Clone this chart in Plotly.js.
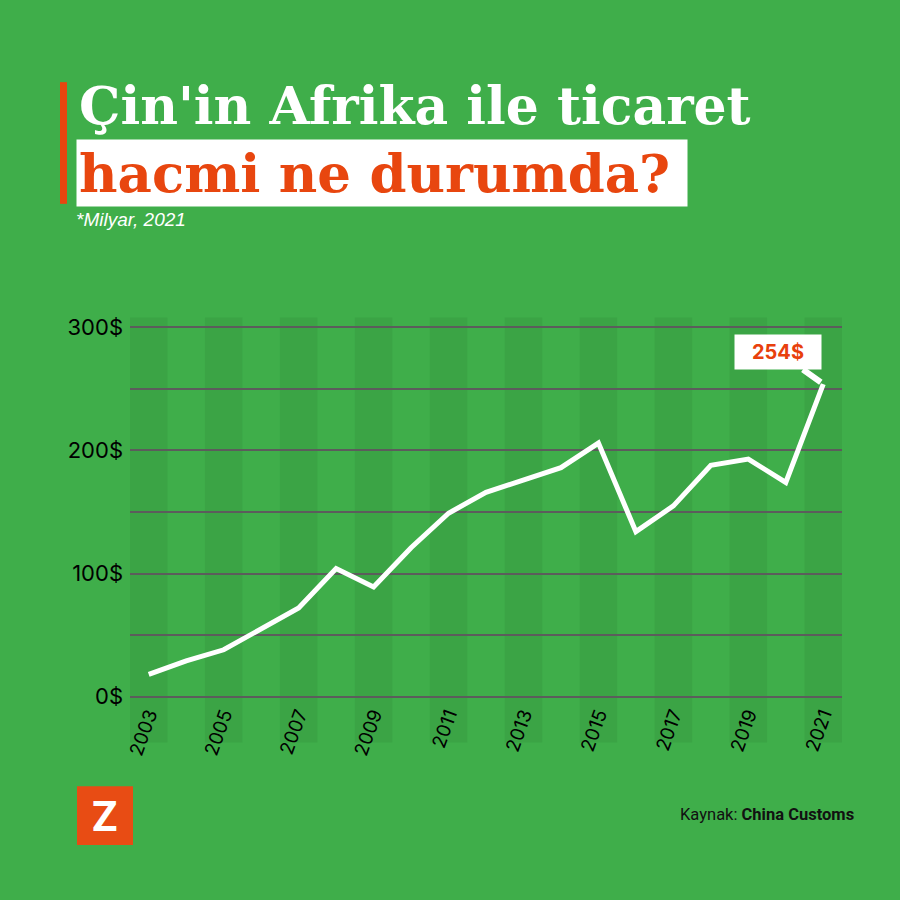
<!DOCTYPE html>
<html>
<head>
<meta charset="utf-8">
<script src="https://cdn.plot.ly/plotly-3.0.1.min.js"></script>
<style>html,body{margin:0;padding:0;background:#3fae4a;}#chart{width:900px;height:900px;}</style>
</head>
<body>
<div id="chart"></div>
<script>
// ---- data ----
const years = [2003,2004,2005,2006,2007,2008,2009,2010,2011,2012,2013,2014,2015,2016,2017,2018,2019,2020,2021];
const tradeVolume = [18,29,38,55,72,104,89,121,149,166,176,186,206,134,155,188,193,174,254];
const tickYears = [2003,2005,2007,2009,2011,2013,2015,2017,2019,2021];
const yTickVals = [0,100,200,300];
const yTickText = ['0$','100$','200$','300$'];
const lastLabel = '254$';
const titleLine1 = "Çin'in Afrika ile ticaret";
const titleLine2 = 'hacmi ne durumda?';
const subtitle = '*Milyar, 2021';
const sourceText = 'Kaynak: <b>China Customs</b>';

// ---- geometry helpers (page pixels -> paper coords) ----
const W = 900, H = 900;
const M = {l:130, r:58, t:324.5, b:200.5};
const pw = W - M.l - M.r, ph = H - M.t - M.b;
const px = v => (v - M.l) / pw;
const py = v => (H - M.b - v) / ph;

const BG = '#3fae4a';
const BAND = '#3ba445';
const ORANGE = '#e8460f';

const shapes = [];
// alternating darker bands on odd years
years.filter(y => y % 2 === 1).forEach(y => {
  shapes.push({type:'rect', xref:'x', yref:'paper', x0:y-0.5, x1:y+0.5, y0:py(743), y1:py(317),
    fillcolor:BAND, line:{width:0}, layer:'below'});
});
// orange vertical bar by title
shapes.push({type:'rect', xref:'paper', yref:'paper', x0:px(60), x1:px(67), y0:py(203), y1:py(81),
  fillcolor:ORANGE, line:{width:0}});
// logo square
shapes.push({type:'rect', xref:'paper', yref:'paper', x0:px(77), x1:px(133), y0:py(846), y1:py(787),
  fillcolor:'#e84c14', line:{width:0}});

const annotations = [
  {xref:'paper', yref:'paper', x:px(77), y:py(104), xanchor:'left', yanchor:'middle', showarrow:false,
   text:'<b>'+titleLine1+'</b>', font:{family:'DejaVu Serif', size:52, color:'#ffffff'}},
  {xref:'paper', yref:'paper', x:px(76), y:py(172.5), xanchor:'left', yanchor:'middle', showarrow:false,
   text:'<b>'+titleLine2+'</b>', font:{family:'DejaVu Serif', size:53, color:ORANGE},
   bgcolor:'#ffffff', borderpad:2, width:606, align:'left'},
  {xref:'paper', yref:'paper', x:px(74), y:py(219), xanchor:'left', yanchor:'middle', showarrow:false,
   text:'<i>'+subtitle+'</i>', font:{family:'Liberation Sans', size:19, color:'#ffffff'}},
  {xref:'paper', yref:'paper', x:px(105), y:py(817), xanchor:'center', yanchor:'middle', showarrow:false,
   text:'<b>Z</b>', font:{family:'Liberation Sans Narrow, Roboto, Liberation Sans', size:42, color:'#ffffff'}},
  {xref:'paper', yref:'paper', x:px(856), y:py(815), xanchor:'right', yanchor:'middle', showarrow:false,
   text:sourceText, font:{family:'Liberation Sans Narrow, Roboto, Liberation Sans', size:16.5, color:'#111111'}},
  {xref:'x', yref:'y', x:years[years.length-1], y:tradeVolume[tradeVolume.length-1],
   text:'<b>'+lastLabel+'</b>', font:{family:'Inter, Lato, sans-serif', size:20, color:'#e8400c'},
   bgcolor:'#ffffff', borderpad:5, width:76, showarrow:true, arrowhead:0, arrowwidth:6, arrowcolor:'#ffffff',
   standoff:3, ax:-45, ay:-32}
];

const trace = {
  x: years, y: tradeVolume, type:'scatter', mode:'lines',
  line:{color:'#ffffff', width:5}, hoverinfo:'skip', cliponaxis:false
};

const layout = {
  width:W, height:H, paper_bgcolor:BG, plot_bgcolor:'rgba(0,0,0,0)',
  margin:M, showlegend:false,
  xaxis:{range:[2002.5,2021.5], tickmode:'array', tickvals:tickYears, ticktext:tickYears.map(String),
    tickangle:-70, showgrid:false, zeroline:false, showline:false, ticks:'',
    tickfont:{family:'Inter, Lato, sans-serif', size:19, color:'#000000'}, fixedrange:true},
  yaxis:{range:[-2,302], tickmode:'array', tickvals:yTickVals, ticktext:yTickText,
    showgrid:true, gridcolor:'#5c5c5c', gridwidth:2, zeroline:false, showline:false, ticks:'',
    minor:{dtick:50, showgrid:true, gridcolor:'#5c5c5c', gridwidth:2},
    ticklabelstandoff:6,
    tickfont:{family:'Inter, Lato, sans-serif', size:22, color:'#000000'}, fixedrange:true},
  shapes:shapes, annotations:annotations
};

Plotly.newPlot('chart', [trace], layout, {displayModeBar:false, staticPlot:true});
</script>
</body>
</html>
